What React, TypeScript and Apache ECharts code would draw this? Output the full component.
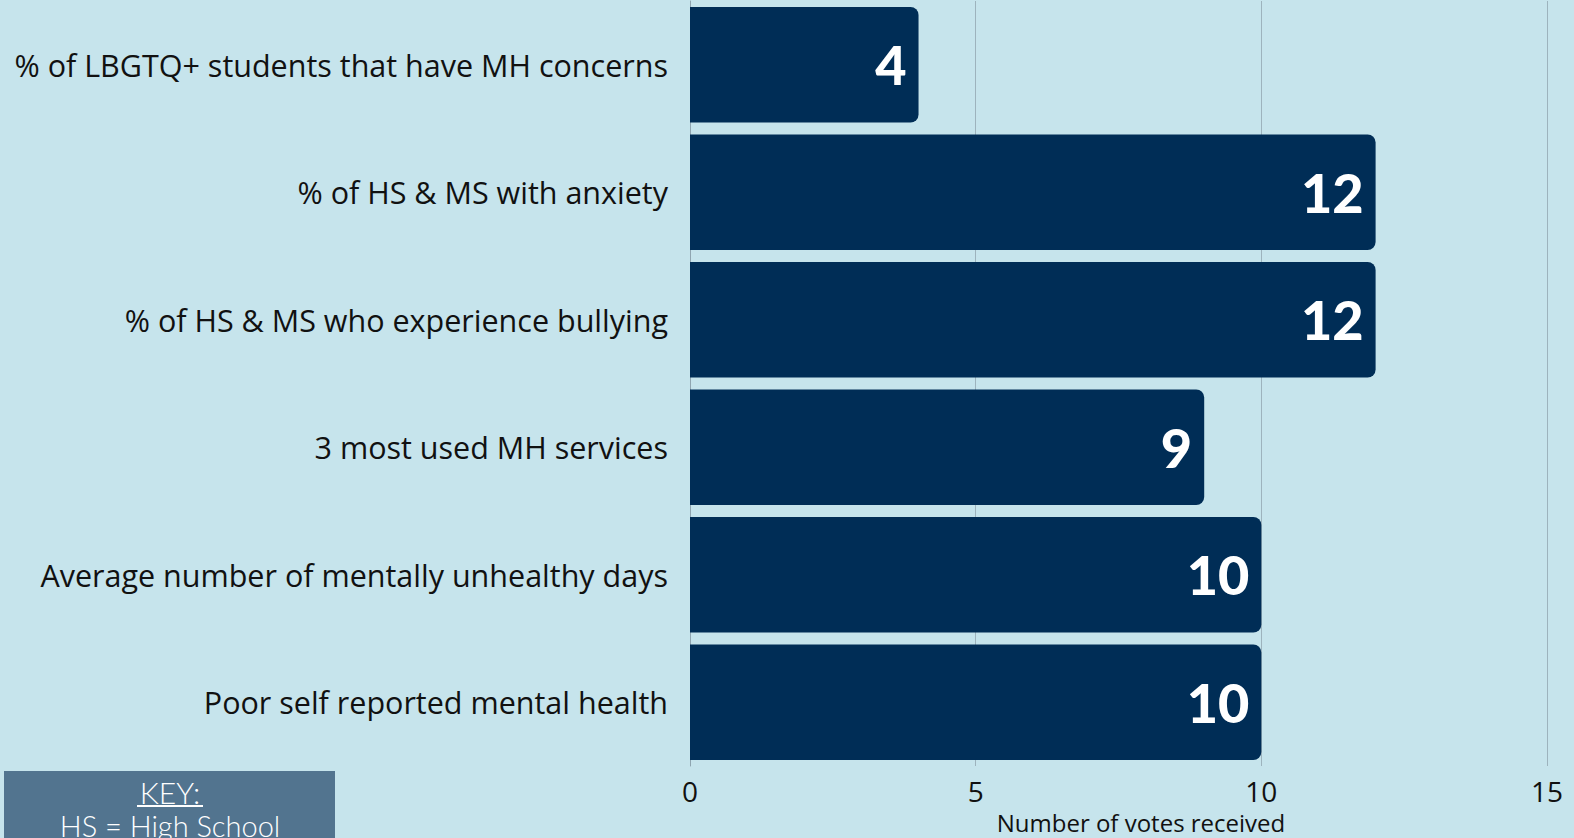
import React, { useEffect, useRef } from "react";
import * as echarts from "echarts";

const categories = [
  "% of LBGTQ+ students that have MH concerns",
  "% of HS & MS with anxiety",
  "% of HS & MS who experience bullying",
  "3 most used MH services",
  "Average number of mentally unhealthy days",
  "Poor self reported mental health",
];
const votes = [4, 12, 12, 9, 10, 10];
const axisTitle = "Number of votes received";
const keyTitle = "KEY:";
const keyLines = ["HS = High School"];

export default function App() {
  const ref = useRef<HTMLDivElement>(null);
  useEffect(() => {
    document.body.style.margin = "0";
    const chart = echarts.init(ref.current!, null, { renderer: "svg" });
    chart.setOption({
      animation: false,
      backgroundColor: "#c6e4ec",
      grid: { left: 690, right: 27, top: 1, bottom: 72, containLabel: false },
      xAxis: {
        type: "value",
        min: 0,
        max: 15,
        interval: 5,
        axisLine: { show: false },
        axisTick: { show: false },
        splitLine: { show: true, lineStyle: { color: "#9db3bd", width: 1 } },
        axisLabel: {
          fontSize: 28,
          color: "#111",
          fontFamily: "Open Sans",
          margin: 11,
        },
      },
      yAxis: {
        type: "category",
        inverse: true,
        data: categories,
        axisLine: { show: true, lineStyle: { color: "#8fa5b0", width: 1 } },
        axisTick: { show: false },
        axisLabel: {
          fontSize: 30.5,
          color: "#111",
          fontFamily: "Open Sans",
          margin: 22,
        },
      },
      series: [
        {
          type: "bar",
          data: votes,
          barCategoryGap: "9.3%",
          itemStyle: { color: "#002d56", borderRadius: [0, 8, 8, 0] },
          label: {
            show: true,
            position: "insideRight",
            distance: 12,
            color: "#ffffff",
            fontSize: 54,
            fontWeight: 900,
            fontFamily: "Lato",
          },
        },
      ],
      graphic: [
        {
          type: "text",
          x: 1141,
          y: 822,
          style: {
            text: axisTitle,
            align: "center",
            verticalAlign: "middle",
            fontSize: 24,
            fontFamily: "Open Sans",
            fill: "#111",
          },
        },
        {
          type: "rect",
          shape: { x: 4, y: 771, width: 331, height: 80 },
          style: { fill: "#52748f" },
        },
        {
          type: "text",
          x: 170,
          y: 792,
          style: {
            text: keyTitle,
            align: "center",
            verticalAlign: "middle",
            fontSize: 30,
            fontWeight: 300,
            fontFamily: "Lato",
            fill: "#ffffff",
          },
        },
        {
          type: "line",
          shape: { x1: 137, y1: 806, x2: 203, y2: 806 },
          style: { stroke: "#ffffff", lineWidth: 2 },
        },
        {
          type: "text",
          x: 170,
          y: 825,
          style: {
            text: keyLines[0],
            align: "center",
            verticalAlign: "middle",
            fontSize: 29,
            fontWeight: 300,
            fontFamily: "Lato",
            fill: "#ffffff",
          },
        },
      ],
    });
    return () => chart.dispose();
  }, []);
  return <div ref={ref} style={{ width: 1574, height: 838 }} />;
}
